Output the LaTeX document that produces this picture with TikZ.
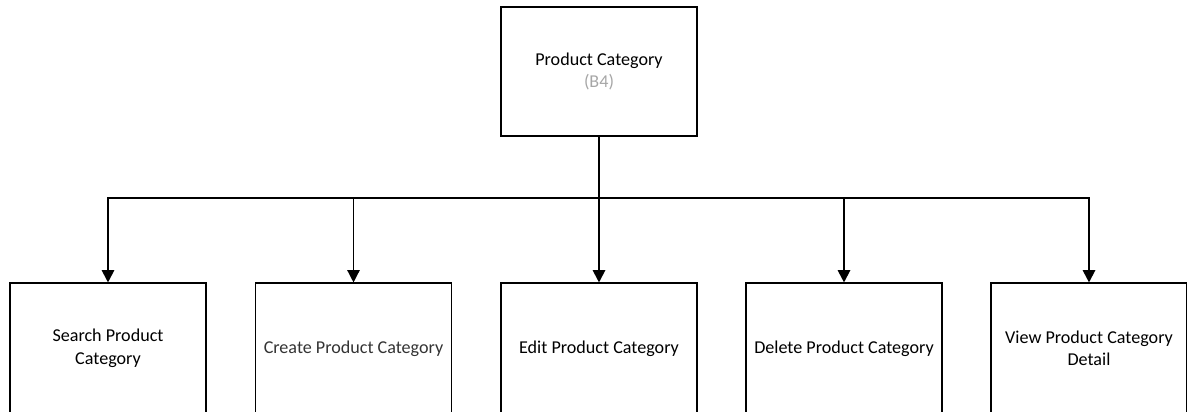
\documentclass[tikz,border=0pt]{standalone}
\usepackage{fontspec}
\setmainfont{Carlito}
\usetikzlibrary{arrows.meta}

\definecolor{codegray}{HTML}{A6A6A6}
\definecolor{softblack}{HTML}{333333}

\tikzset{
  box/.style={draw, line width=0.6pt, minimum width=3.92cm, align=center,
    font=\fontsize{10.3}{12.8}\selectfont},
  link/.style={line width=1.1pt, -{Triangle[width=7pt,length=7pt]}},
}

\begin{document}
\begin{tikzpicture}
    \useasboundingbox (0,0) rectangle (23.74,-8.24) ;

    \node[box, minimum height=2.58cm] (cat) at (11.98,-1.43)
      {Product Category\\{\color{codegray}(B4)}} ;
    \coordinate (bus) at (11.98,-3.96) ;

    \node[box, minimum height=2.62cm] (search) at (2.16,-6.97) {Search Product\\Category} ;
    \node[box, minimum height=2.62cm, text=softblack] (create) at (7.07,-6.97) {Create Product Category} ;
    \node[box, minimum height=2.62cm] (edit) at (11.98,-6.97) {Edit Product Category} ;
    \node[box, minimum height=2.62cm] (delete) at (16.88,-6.97) {Delete Product Category} ;
    \node[box, minimum height=2.62cm] (view) at (21.78,-6.97) {View Product Category\\Detail} ;

    \draw[link] (cat.south) -- (bus) -| (search.north) ;
    \draw[link, line width=0.75pt] (cat.south) -- (bus) -| (create.north) ;
    \foreach \sub in {edit,delete,view}
      \draw[link] (cat.south) -- (bus) -| (\sub.north) ;
  \end{tikzpicture}
\end{document}
